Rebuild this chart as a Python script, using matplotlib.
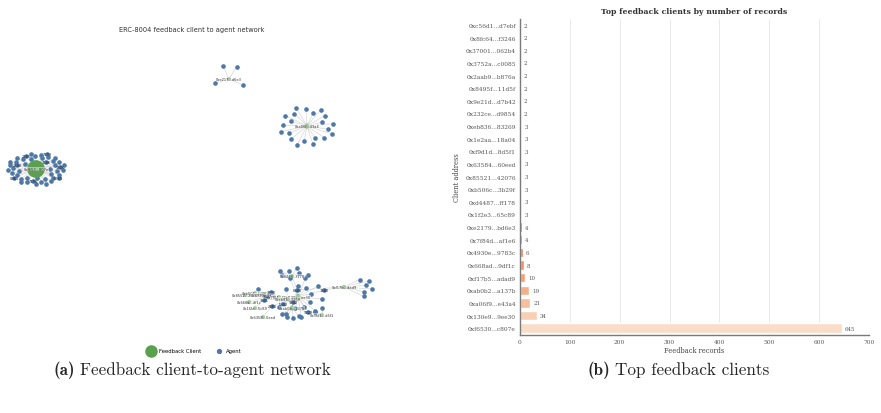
import numpy as np
import matplotlib
matplotlib.use("Agg")
import matplotlib.pyplot as plt
import seaborn as sns
from matplotlib.lines import Line2D

# ---------------- data ----------------
clients = ["0xc56d1...d7ebf", "0x8fc64...f3246", "0x37001...062b4", "0x3752a...c0085",
           "0x2aab9...b876a", "0x8495f...11d5f", "0x9e21d...d7b42", "0x232ce...d9854",
           "0xeb836...83269", "0x1e2aa...18a04", "0xf9d1d...8d5f1", "0x63584...60eed",
           "0x85521...42076", "0xb506c...3b29f", "0xd4487...ff178", "0x1f2e3...65c89",
           "0xe2179...bd6e3", "0x7f84d...af1e6", "0x4930e...9783c", "0x668ad...9df1c",
           "0xf17b5...adad9", "0xab0b2...a137b", "0xa06f9...e43a4", "0x130e9...9ee30",
           "0xf6530...c807e"]
records = [2, 2, 2, 2, 2, 2, 2, 2, 3, 3, 3, 3, 3, 3, 3, 3, 4, 4, 6, 8, 10, 19, 21, 34, 645]
xticks = [0, 100, 200, 300, 400, 500, 600, 700]

# network: clients shown in the graph and number of agents only they rated
graph_clients = ["0xf6530...c807e", "0xe2179...bd6e3", "0xa06f9...e43a4", "0xd4487...ff178",
                 "0xf17b5...adad9", "0x130e9...9ee30", "0xab0b2...a137b", "0xf9d1d...8d5f1",
                 "0x85521...42076", "0xb506c...3b29f", "0x4930e...9783c", "0x668ad...9df1c",
                 "0x1f2e3...65c89", "0x63584...60eed", "0x7f84d...af1e6", "0xeb836...83269"]
graph_own_agents = [46, 4, 21, 6, 6, 13, 4, 2, 0, 0, 1, 0, 0, 0, 1, 1]
# agents shared between several clients (labelled by agent id)
shared_agents = ["6880", "1380", "9342", "2180", "3627", "3630", "3631", "9222", "5342"]
shared_agent_clients = [
    ["0x130e9...9ee30", "0xd4487...ff178", "0xf17b5...adad9", "0xab0b2...a137b"],
    ["0x130e9...9ee30", "0xf17b5...adad9"],
    ["0x130e9...9ee30", "0xab0b2...a137b"],
    ["0x1f2e3...65c89", "0x130e9...9ee30", "0x63584...60eed"],
    ["0x85521...42076", "0xb506c...3b29f", "0x4930e...9783c", "0x668ad...9df1c", "0x130e9...9ee30"],
    ["0x85521...42076", "0xb506c...3b29f", "0x4930e...9783c", "0x7f84d...af1e6"],
    ["0x668ad...9df1c", "0x1f2e3...65c89", "0x4930e...9783c", "0xeb836...83269"],
    ["0xf9d1d...8d5f1", "0xab0b2...a137b", "0x130e9...9ee30"],
    ["0x130e9...9ee30", "0xeb836...83269", "0x7f84d...af1e6"],
]
big_cluster_agent_ids = ["7686", "2383", "7196", "1306", "2385", "0961", "5905", "7193"]

# ---------------- layout (graph coordinates) ----------------
# hub: (x, y, rx, ry, start angle, span, inner radius fraction)
hub_layout = {
    "0xf6530...c807e": (36, 170, 30, 16, 0, 360, 0.4),
    "0xe2179...bd6e3": (229, 80, 15, 14, 60, 360, 1.0),
    "0xa06f9...e43a4": (307, 127, 29, 20, 20, 360, 0.45),
    "0xd4487...ff178": (292, 277, 16, 8, -10, 200, 0.6),
    "0xf17b5...adad9": (344, 288, 28, 13, -55, 110, 0.8),
    "0x130e9...9ee30": (298, 298, 24, 20, -130, 250, 0.55),
    "0xab0b2...a137b": (292, 309, 12, 10, 200, 120, 1.0),
    "0xf9d1d...8d5f1": (322, 316, 8, 7, 60, 120, 1.0),
    "0x85521...42076": (245, 296, 6, 6, 0, 360, 1.0),
    "0xb506c...3b29f": (255, 294, 6, 6, 0, 360, 1.0),
    "0x4930e...9783c": (264, 296, 8, 8, 90, 90, 1.0),
    "0x668ad...9df1c": (249, 303, 6, 6, 0, 360, 1.0),
    "0x1f2e3...65c89": (255, 309, 6, 6, 0, 360, 1.0),
    "0x63584...60eed": (263, 318, 6, 6, 0, 360, 1.0),
    "0x7f84d...af1e6": (279, 298, 10, 10, 250, 40, 1.0),
    "0xeb836...83269": (288, 300, 10, 10, 80, 40, 1.0),
}
shared_layout = {"6880": (297, 291), "1380": (324, 291), "9342": (293, 303),
                 "2180": (272, 307), "3627": (267, 297), "3630": (271, 293),
                 "3631": (264, 301), "9222": (308, 313), "5342": (283, 305)}

CLIENT_C = "#59a14f"
AGENT_C = "#4e79a7"
GOLDEN = np.deg2rad(137.508)

fig = plt.figure(figsize=(8.81, 4.14), dpi=100)

# ================= left: network =================
axn = fig.add_axes([0, 0, 0.5, 1])
axn.set_xlim(0, 440.5)
axn.set_ylim(414, 0)
axn.axis("off")

rec_map = dict(zip(clients, records))
edges = []
agent_xy = []
agent_lbl = []
for name, n_own in zip(graph_clients, graph_own_agents):
    cx, cy, rx, ry, a0, span, rin = hub_layout[name]
    full = span >= 360
    for k in range(n_own):
        if full:
            a = np.deg2rad(a0) + k * GOLDEN
            t = (k + 0.5) / n_own
            scale = rin + (1 - rin) * np.sqrt(t) if rin < 1 else 1.0
        else:
            a = np.deg2rad(a0 + span * (k + 0.5) / n_own)
            scale = 1.0 if k % 2 == 0 else rin
        x = cx + rx * scale * np.cos(a)
        y = cy - ry * scale * np.sin(a)
        agent_xy.append((x, y))
        edges.append(((cx, cy), (x, y)))
        if name == graph_clients[0] and k % 6 == 3 and len(agent_lbl) < len(big_cluster_agent_ids):
            agent_lbl.append(((x, y), big_cluster_agent_ids[len(agent_lbl)]))

for aid, cl in zip(shared_agents, shared_agent_clients):
    ax_, ay_ = shared_layout[aid]
    agent_xy.append((ax_, ay_))
    for c in cl:
        cx, cy = hub_layout[c][:2]
        edges.append(((cx, cy), (ax_, ay_)))

for (x0, y0), (x1, y1) in edges:
    axn.plot([x0, x1], [y0, y1], color="#c8c8c8", lw=0.45, alpha=0.8, zorder=1)

axy = np.array(agent_xy)
axn.scatter(axy[:, 0], axy[:, 1], s=11, color=AGENT_C, zorder=2, linewidths=0)

hx = [hub_layout[c][0] for c in graph_clients]
hy = [hub_layout[c][1] for c in graph_clients]
hs = [7 + 0.24 * rec_map[c] for c in graph_clients]
axn.scatter(hx, hy, s=hs, color=CLIENT_C, zorder=3, linewidths=0)

lbl_box = dict(boxstyle="square,pad=0.05", fc="white", ec="none", alpha=0.45)
for c in graph_clients:
    x, y = hub_layout[c][:2]
    short = c[:6] + "..." + c[-4:]
    axn.text(x, y, short, fontsize=2.6, ha="center", va="center", color="#333333",
             zorder=4, bbox=lbl_box)
for aid in shared_agents:
    x, y = shared_layout[aid]
    axn.text(x, y, aid, fontsize=2.6, ha="center", va="center", color="#1b2440", zorder=4)
for (x, y), aid in agent_lbl:
    axn.text(x, y, aid, fontsize=2.6, ha="center", va="center", color="#1b2440", zorder=4)

fig.text(192 / 881, 1 - 30 / 414, "ERC-8004 feedback client to agent network",
         fontsize=4.8, ha="center", va="center", color="#333333", family="DejaVu Sans")

handles = [Line2D([], [], marker="o", ls="", color=CLIENT_C, markersize=8, label="Feedback Client"),
           Line2D([], [], marker="o", ls="", color=AGENT_C, markersize=2.8, label="Agent")]
fig.legend(handles=handles, loc="center", bbox_to_anchor=(194 / 881, 1 - 352 / 414), ncol=2,
           frameon=False, handletextpad=0.4, columnspacing=2.4,
           prop={"family": "DejaVu Sans", "size": 3.8})

# ================= right: bar chart =================
sns.set_style("whitegrid")
serif = "DejaVu Serif"
axb = fig.add_axes([520 / 881, 1 - 335.5 / 414, 349 / 881, 315.8 / 414])
pal = sns.color_palette("rocket", len(clients))
ypos = np.arange(len(clients))
axb.barh(ypos, records, height=0.75, color=pal, zorder=2)
axb.set_ylim(len(clients) - 0.5, -0.5)
axb.set_xlim(0, 700)
axb.set_xticks(xticks)
axb.set_xticklabels([str(t) for t in xticks], fontsize=4.2, family=serif, color="#555555")
axb.set_yticks(ypos)
axb.set_yticklabels(clients, fontsize=4.2, family=serif, color="#555555")
axb.tick_params(axis="both", length=0, pad=3)
axb.grid(axis="x", color="#e5e5e5", lw=0.6, zorder=0)
axb.grid(axis="y", visible=False)
axb.set_facecolor("white")
for s in ["top", "right"]:
    axb.spines[s].set_visible(False)
for s in ["left", "bottom"]:
    axb.spines[s].set_color("#7a7a7a")
    axb.spines[s].set_linewidth(1.0)
for y, v in zip(ypos, records):
    axb.text(v + 6, y, str(v), fontsize=4.0, va="center", ha="left", family=serif, color="#555555")
axb.set_xlabel("Feedback records", fontsize=4.8, family=serif, color="#444444", labelpad=2)
axb.set_ylabel("Client address", fontsize=4.8, family=serif, color="#444444", labelpad=3)
axb.set_title("Top feedback clients by number of records", fontsize=5.6, family=serif,
              fontweight="bold", color="#333333", pad=4)

# ================= captions =================
fig.canvas.draw()
r = fig.canvas.get_renderer()


def caption(cx_px, base_px, bold, rest, size):
    t1 = fig.text(0, 0, bold, fontsize=size, family="cmb10", va="baseline", ha="left")
    t2 = fig.text(0, 0, rest, fontsize=size, family="cmr10", va="baseline", ha="left")
    w1 = t1.get_window_extent(r).width
    w2 = t2.get_window_extent(r).width
    gap = size * 0.38
    total = w1 + gap + w2
    x0 = cx_px - total / 2
    yb = 1 - base_px / 414
    t1.set_position((x0 / 881, yb))
    t2.set_position(((x0 + w1 + gap) / 881, yb))


caption(192, 375, "(a)", "Feedback client-to-agent network", 12.3)
caption(678, 375, "(b)", "Top feedback clients", 12.3)

fig.savefig("out.png", dpi=100)
